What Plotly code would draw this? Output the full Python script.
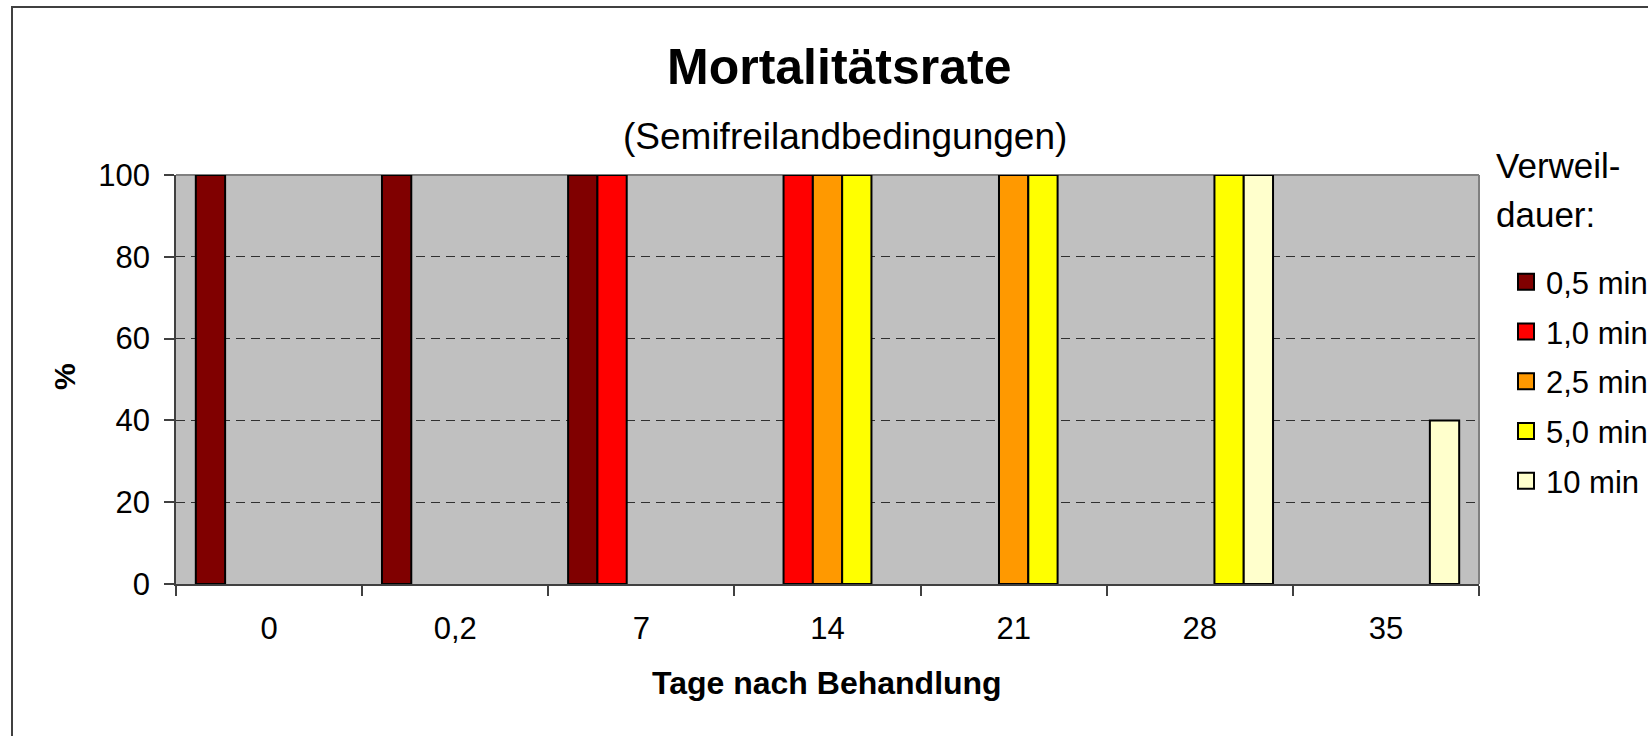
import plotly.graph_objects as go

# ---- data ----
categories = ["0", "0,2", "7", "14", "21", "28", "35"]
series_names = ["0,5 min", "1,0 min", "2,5 min", "5,0 min", "10 min"]
s_05 = [100, 100, 100, None, None, None, None]
s_10 = [None, None, 100, 100, None, None, None]
s_25 = [None, None, None, 100, 100, None, None]
s_50 = [None, None, None, 100, 100, 100, None]
s_100 = [None, None, None, None, None, 100, 40]
y_ticks = [0, 20, 40, 60, 80, 100]

series_values = [s_05, s_10, s_25, s_50, s_100]
colors = ["#800000", "#FF0000", "#FF9900", "#FFFF00", "#FFFFCC"]

FONT = "Liberation Sans, Arial, sans-serif"
W, H = 1648, 736
L, R, T, B = 176, 1479, 175, 584


def px(x):
    return (x - L) / (R - L)


def py(y):
    return (B - y) / (B - T)


fig = go.Figure()
for i, (name, vals, col) in enumerate(zip(series_names, series_values, colors)):
    fig.add_trace(go.Bar(
        x=categories, y=vals, name=name,
        marker=dict(color=col, line=dict(color="black", width=2)),
        showlegend=False, legendgroup=f"g{i}",
    ))
for i, (name, col) in enumerate(zip(series_names, colors)):
    # legend proxies (larger square symbols)
    fig.add_trace(go.Scatter(
        x=[None], y=[None], mode="markers", name=name,
        marker=dict(symbol="square", size=16, color=col,
                    line=dict(color="black", width=2)),
        legendgroup=f"g{i}", showlegend=True,
    ))

fig.update_layout(
    width=W, height=H,
    margin=dict(l=L, r=W - R, t=T, b=H - B, pad=0, autoexpand=False),
    paper_bgcolor="white",
    plot_bgcolor="#C0C0C0",
    barmode="group", bargap=0.213, bargroupgap=0,
    font=dict(family=FONT, color="black", size=31),
    showlegend=True,
    legend=dict(
        xref="container", yref="container",
        x=1506 / W, xanchor="left", y=1 - 255 / H, yanchor="top",
        bgcolor="rgba(0,0,0,0)",
        font=dict(size=31, family=FONT),
        tracegroupgap=6.5,
    ),
    xaxis=dict(
        type="category", range=[-0.5, 6.5],
        showline=True, linecolor="#404040", linewidth=1.5,
        ticks="outside", ticklen=10, tickcolor="#404040", tickwidth=1.5,
        tickson="boundaries",
        tickfont=dict(size=31), ticklabelstandoff=16,
        showgrid=False, fixedrange=True,
    ),
    yaxis=dict(
        range=[0, 100], tickvals=y_ticks,
        showline=True, linecolor="#404040", linewidth=1.5,
        ticks="outside", ticklen=10, tickcolor="#404040", tickwidth=1.5,
        tickfont=dict(size=31), ticklabelstandoff=8,
        showgrid=True, gridcolor="#303030", gridwidth=1, griddash="9px,6px",
        zeroline=False, fixedrange=True,
    ),
    shapes=[
        # outer chart border (left/top visible)
        dict(type="rect", xref="paper", yref="paper",
             x0=px(12), x1=1.3, y0=-1, y1=py(7),
             line=dict(color="#404040", width=2), layer="above"),
        # plot area frame top/right in gray
        dict(type="line", xref="paper", yref="paper", x0=0, x1=1, y0=1, y1=1,
             line=dict(color="#808080", width=2), layer="below"),
        dict(type="line", xref="paper", yref="paper", x0=1, x1=1, y0=0, y1=1,
             line=dict(color="#808080", width=2), layer="below"),
    ],
    annotations=[
        dict(text="<b>Mortalitätsrate</b>", xref="paper", yref="paper",
             x=px(839), y=py(67), xanchor="center", yanchor="middle",
             showarrow=False, font=dict(size=50, family=FONT)),
        dict(text="(Semifreilandbedingungen)", xref="paper", yref="paper",
             x=px(845), y=py(136), xanchor="center", yanchor="middle",
             showarrow=False, font=dict(size=37, family=FONT)),
        dict(text="<b>Tage nach Behandlung</b>", xref="paper", yref="paper",
             x=px(827), y=py(683), xanchor="center", yanchor="middle",
             showarrow=False, font=dict(size=32, family=FONT)),
        dict(text="<b>%</b>", xref="paper", yref="paper",
             x=px(64), y=py(377), xanchor="center", yanchor="middle",
             textangle=-90, showarrow=False, font=dict(size=30, family=FONT)),
        dict(text="Verweil-", xref="paper", yref="paper",
             x=px(1494), y=py(165), xanchor="left", yanchor="middle",
             showarrow=False, font=dict(size=35, family=FONT)),
        dict(text="dauer:", xref="paper", yref="paper",
             x=px(1494), y=py(214), xanchor="left", yanchor="middle",
             showarrow=False, font=dict(size=35, family=FONT)),
    ],
)

fig.write_html("out.html", config={"displayModeBar": False},
               post_script="document.body.style.margin='0';")
